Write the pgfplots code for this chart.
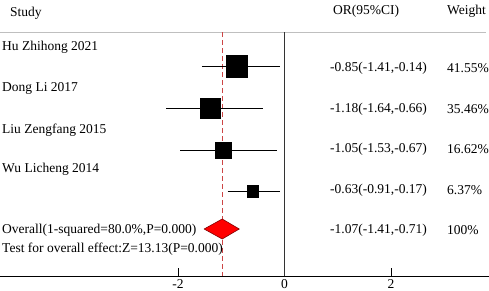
\documentclass[border=0pt]{standalone}
\usepackage{fontspec}
\setmainfont{Liberation Serif}
\usepackage{pgfplots}
\pgfplotsset{compat=1.18}
\definecolor{refred}{RGB}{205,70,70}
\newcommand\fs{\fontsize{13.5}{16}\selectfont}
\begin{document}
\begin{tikzpicture}[font=\fs, txt/.style={anchor=west, font=\fs, inner sep=0pt, yshift=-1.5pt}]
\begin{axis}[
  at={(0,0)}, anchor=south west,
  width=489pt, height=276pt, scale only axis,
  xmin=-5.343, xmax=3.840, ymin=0, ymax=276,
  axis x line*=bottom, axis y line=none,
  xtick={-2,0,2}, xticklabels={-2,0,2},
  tick align=inside, major tick length=8pt,
  ytick=\empty,
  tick style={black, line width=0.8pt},
  axis line style={black, line width=0.8pt},
  xticklabel style={font=\fs, inner sep=0pt, anchor=north, yshift=-3pt},
  clip=false,
]
% reference lines
\draw[gray!50, line width=0.8pt] (axis cs:-5.343,244) -- (axis cs:3.79,244);
\draw[black!80, line width=0.8pt] (axis cs:0,244) -- (axis cs:0,0);
\draw[refred, line width=0.8pt, dash pattern=on 5pt off 3pt] (axis cs:-1.17,244) -- (axis cs:-1.17,0);
\draw[black, line width=0.8pt] (axis cs:-2,0) -- (axis cs:-2,8);
\draw[black, line width=0.8pt] (axis cs:2,0) -- (axis cs:2,8);
% confidence intervals
\addplot[black, line width=0.8pt] coordinates {(-1.55,210) (-0.09,210)};
\addplot[black, line width=0.8pt] coordinates {(-2.22,168) (-0.41,168)};
\addplot[black, line width=0.8pt] coordinates {(-1.96,126) (-0.15,126)};
\addplot[black, line width=0.8pt] coordinates {(-1.07,85) (-0.09,85)};
% squares
\addplot[only marks, mark=square*, mark size=10.8pt, black] coordinates {(-0.90,210)};
\addplot[only marks, mark=square*, mark size=10pt, black] coordinates {(-1.39,168)};
\addplot[only marks, mark=square*, mark size=8.2pt, black] coordinates {(-1.15,126)};
\addplot[only marks, mark=square*, mark size=5.8pt, black] coordinates {(-0.60,85)};
% diamond
\addplot[fill=red, draw=red!50!black, line width=0.6pt] coordinates {(-1.51,47) (-1.17,57) (-0.85,47) (-1.17,37) (-1.51,47)};
% headers
\node[txt] at (axis cs:-5.155,264) {Study};
\node[txt] at (axis cs:0.911,266) {OR(95\%CI)};
\node[txt] at (axis cs:3.05,266) {Weight};
% study names
\node[txt] at (axis cs:-5.305,230) {Hu Zhihong 2021};
\node[txt] at (axis cs:-5.305,189) {Dong Li 2017};
\node[txt] at (axis cs:-5.305,147) {Liu Zengfang 2015};
\node[txt] at (axis cs:-5.305,108) {Wu Licheng 2014};
\node[txt] at (axis cs:-5.305,47) {Overall(1-squared=80.0\%,P=0.000)};
\node[txt] at (axis cs:-5.305,28.5) {Test for overall effect:Z=13.13(P=0.000)};
% OR values
\node[txt] at (axis cs:0.855,209) {-0.85(-1.41,-0.14)};
\node[txt] at (axis cs:0.855,168) {-1.18(-1.64,-0.66)};
\node[txt] at (axis cs:0.855,128) {-1.05(-1.53,-0.67)};
\node[txt] at (axis cs:0.855,87) {-0.63(-0.91,-0.17)};
\node[txt] at (axis cs:0.855,47) {-1.07(-1.41,-0.71)};
% weights
\node[txt] at (axis cs:3.05,209) {41.55\%};
\node[txt] at (axis cs:3.05,168) {35.46\%};
\node[txt] at (axis cs:3.05,128) {16.62\%};
\node[txt] at (axis cs:3.05,87) {6.37\%};
\node[txt] at (axis cs:3.05,47) {100\%};
\end{axis}
\pgfresetboundingbox
\path (0,-14pt) rectangle (489pt,276pt);
\end{tikzpicture}
\end{document}
